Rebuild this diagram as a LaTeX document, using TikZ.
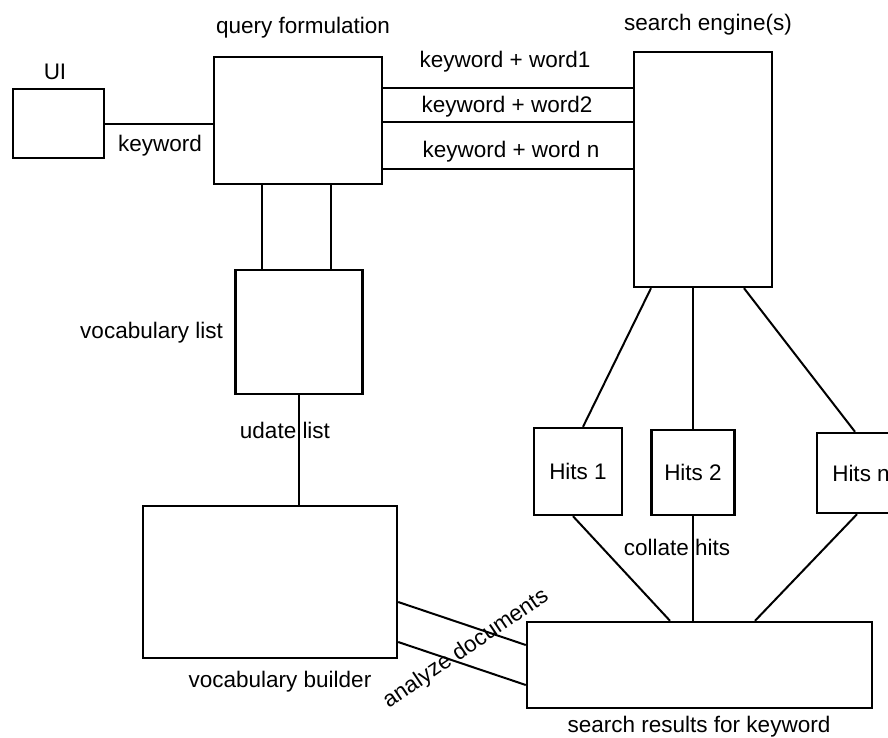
\documentclass[tikz,border=0pt]{standalone}
\usepackage{fontspec}
\setmainfont{Liberation Sans}
\usetikzlibrary{calc}

\begin{document}
\begin{tikzpicture}[x=1pt, y=-1pt, font=\fontsize{22.5}{27}\selectfont,
        blocco/.style={draw, line width=2.4pt, rectangle, inner sep=0pt},
        filo/.style={line width=2pt},
        etichetta/.style={inner sep=1pt}]
        \useasboundingbox (0,0) rectangle (888,737);

        % Blocchi
        \node[blocco, minimum width=91pt, minimum height=69pt] (ui) at (58.5,123.5) {};
        \node[blocco, minimum width=168pt, minimum height=127pt] (qf) at (298,120.5) {};
        \node[blocco, minimum width=138pt, minimum height=235pt] (se) at (703,169.5) {};
        \node[blocco, minimum width=127pt, minimum height=124pt] (vl) at (299,332) {};
        \node[blocco, minimum width=254pt, minimum height=152pt] (vb) at (270,582) {};
        \node[blocco, minimum width=345pt, minimum height=86pt] (sr) at (699.5,665) {};
        \node[blocco, minimum width=88pt, minimum height=87pt] (h1) at (578,471.5) {Hits 1};
        \node[blocco, minimum width=83pt, minimum height=85pt] (h2) at (693,472.5) {Hits 2};
        \node[blocco, minimum width=88pt, minimum height=80pt] (hn) at (861,473) {Hits n};

        % Titoli dei blocchi
        \node[etichetta] (tui) at (55,72) {UI};
        \node[etichetta] (tqf) at (303,28) {query formulation};
        \node[etichetta] (tse) at (708,25) {search engine(s)};
        \node[etichetta, anchor=east] (tvl) at (224,333) {vocabulary list};
        \node[etichetta] (tvb) at (280,682) {vocabulary builder};
        \node[etichetta] (tsr) at (699,727) {search results for keyword};

        % UI -> query formulation
        \draw[filo] (ui.east) -- (ui.east -| qf.west);
        \node[etichetta] (kw) at (160,146) {keyword};

        % query formulation -> search engine
        \coordinate (w1) at (0,88);
        \coordinate (w2) at (0,122);
        \coordinate (wn) at (0,169);
        \draw[filo] (w1 -| qf.east) -- (w1 -| se.west);
        \draw[filo] (w2 -| qf.east) -- (w2 -| se.west);
        \draw[filo] (wn -| qf.east) -- (wn -| se.west);
        \node[etichetta] (kw1) at (505,62) {keyword + word1};
        \node[etichetta] (kw2) at (507,107) {keyword + word2};
        \node[etichetta] (kwn) at (511,152) {keyword + word n};

        % query formulation -- vocabulary list
        \draw[filo] ([xshift=-36pt]qf.south) -- ([xshift=-36pt]qf.south |- vl.north);
        \draw[filo] ([xshift=33pt]qf.south) -- ([xshift=33pt]qf.south |- vl.north);

        % vocabulary list -- vocabulary builder
        \draw[filo] (vl.south) -- (vl.south |- vb.north);
        \node[etichetta] (ul) at (285,430) {udate list};

        % search engine -> hits
        \draw[filo] ([xshift=-52pt]se.south) -- ([xshift=5pt]h1.north);
        \draw[filo] (h2.north |- se.south) -- (h2.north);
        \draw[filo] ([xshift=41pt]se.south) -- ([xshift=-6pt]hn.north);

        % hits -> search results
        \draw[filo] ([xshift=-5pt]h1.south) -- ([xshift=-29.5pt]sr.north);
        \draw[filo] (h2.south) -- (h2.south |- sr.north);
        \draw[filo] ([xshift=-4pt]hn.south) -- ([xshift=55.5pt]sr.north);
        \node[etichetta] (ch) at (677,547) {collate hits};

        % search results -> vocabulary builder
        \draw[filo] ([yshift=-20pt]vb.east) -- ([yshift=20pt]sr.west);
        \draw[filo] ([yshift=-60pt]vb.east) -- ([yshift=-20pt]sr.west);
        \node[etichetta, rotate=34] (ad) at (466,649) {analyze documents};
    \end{tikzpicture}
\end{document}
